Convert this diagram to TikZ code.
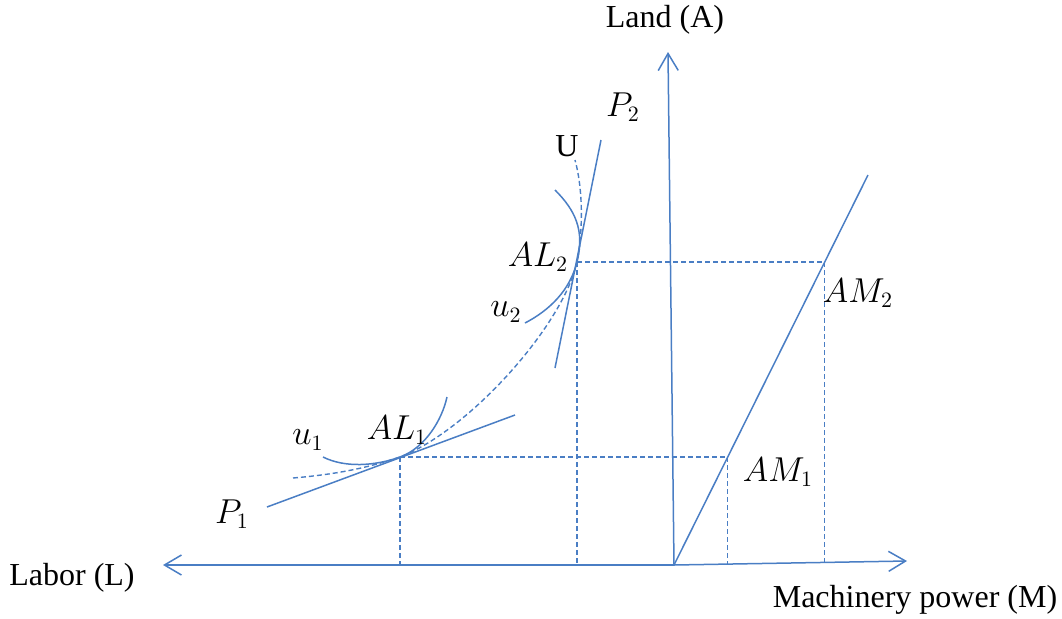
\documentclass[tikz,border=0pt]{standalone}
\usepackage{fontspec}
\setmainfont{Liberation Serif}
\usetikzlibrary{arrows.meta,calc}
\definecolor{lineblue}{HTML}{4A7EC4}

\begin{document}
\begin{tikzpicture}[x=0.5pt,y=-0.5pt,
          every node/.style={font=\fontsize{16}{19}\selectfont,inner sep=1pt},
          axis/.style={lineblue,line width=0.75pt,-{Straight Barb[length=8.5pt,width=10pt]}},
          curve/.style={lineblue,line width=0.75pt},
          guide/.style={lineblue,line width=0.7pt,dash pattern=on 2.5pt off 1.5pt}]
        \useasboundingbox (0,0) rectangle (1062,618);
        % axes and points
        \coordinate (O) at (674,565);
        \coordinate (R) at (868,175);
        \coordinate (AL1) at (400,457);
        \coordinate (AL2) at (577,262);
        \coordinate (AM1) at ($(O)!0.277!(R)$);
        \coordinate (AM2) at ($(O)!0.777!(R)$);
        \coordinate (P1a) at (267,507);
        \coordinate (P1b) at (515,415);
        \coordinate (P2a) at (555,368);
        \coordinate (P2b) at (601,140);

        \node (land) at (665,20) {Land (A)};
        \node (labor) at (72,578) {Labor (L)};
        \node (mach) at (915,600) {Machinery power (M)};
        \coordinate (ytip) at (668,52);
        \coordinate (ltip) at (163,565);
        \coordinate (mtip) at (907,561);

        \draw[axis] (O)--(ytip);
        \draw[axis] (O)--(ltip);
        \draw[axis] (O)--(mtip);
        \draw[curve] (O)--(R);

        % guide lines
        \draw[guide] (AL1)--(AL1 -| AM1)--(AM1 |- O);
        \draw[guide] (AL1)--(AL1 |- O);
        \draw[guide] (AL2)--(AL2 -| AM2)--(AM2 |- O);
        \draw[guide] (AL2)--(AL2 |- O);

        % price lines
        \draw[curve] (P1a)--(P1b);
        \draw[curve] (P2a)--(P2b);

        % expansion path U
        \draw[guide] (293,478) .. controls (340,474) and (370,467) .. (AL1)
          .. controls (470,430) and (563,325) .. (AL2)
          .. controls (584,225) and (582,185) .. (575,160);

        % isoquants
        \draw[curve] (323,457) .. controls (345,468) and (375,466) .. (AL1)
          .. controls (425,448) and (442,420) .. (447,397);
        \draw[curve] (525,323) .. controls (550,310) and (570,290) .. (AL2)
          .. controls (585,230) and (575,210) .. (555,190);

        % labels
        \node (lP2) at (623,107) {$P_2$};
        \node (lP1) at (232,514) {$P_1$};
        \node (lU) at (567,146) {U};
        \node (lAL2) at (538,257) {$AL_2$};
        \node (lu2) at (506,312) {$u_2$};
        \node (lAL1) at (397,430) {$AL_1$};
        \node (lu1) at (308,440) {$u_1$};
        \node (lAM2) at (858,293) {$AM_2$};
        \node (lAM1) at (778,472) {$AM_1$};
      \end{tikzpicture}
\end{document}
